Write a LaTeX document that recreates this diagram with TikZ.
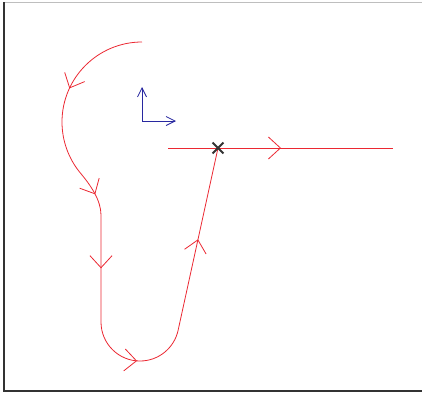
\documentclass[tikz,border=0pt]{standalone}
\usepackage{tikz}
\usetikzlibrary{arrows.meta,decorations.markings,shapes.misc}
\definecolor{pathred}{RGB}{235,40,50}
\definecolor{axisblue}{RGB}{40,40,160}
\definecolor{framegray}{RGB}{190,190,190}
\newcommand{\chev}{\arrow{Straight Barb[length=12pt,width=22pt]}}

\begin{document}
\begin{tikzpicture}[x=1pt,y=-1pt,line width=0.8pt,
  flow/.style={pathred,postaction={decorate}},
  axis/.style={axisblue,-{Straight Barb[length=9pt,width=9pt]}}]
  \useasboundingbox (0,0) rectangle (422,394);
  \draw[framegray] (4,2) -- (422,2);
  \draw[black!80,line width=1.4pt] (4,2) -- (4,391) -- (422,391);

  \coordinate (start) at (142,42);
  \coordinate (o) at (142,121);
  \coordinate (ex) at (176,121);
  \coordinate (ey) at (142,87);
  \coordinate (in) at (168,148);
  \coordinate (out) at (393,148);
  \coordinate (pole) at (218,148);

  \draw[axis] (o) -- (ey);
  \draw[axis] (o) -- (ex);

  \draw[flow,decoration={markings,mark=at position 113pt with {\chev}}] (in) -- (out);
  \draw[flow,decoration={markings,
      mark=at position 91pt with {\chev},
      mark=at position 207pt with {\chev},
      mark=at position 282pt with {\chev},
      mark=at position 394pt with {\chev},
      mark=at position 543pt with {\chev}}]
    (start) arc[start angle=270,end angle=140,radius=80]
    .. controls (90.3,184.9) and (101,200) .. (101,215)
    -- (101,322) arc[start angle=180,end angle=11.6,radius=39] -- (pole);
  \node[cross out,draw=black!80,line width=1.8pt,minimum size=9pt,inner sep=0pt] (cross) at (pole) {};
\end{tikzpicture}
\end{document}
